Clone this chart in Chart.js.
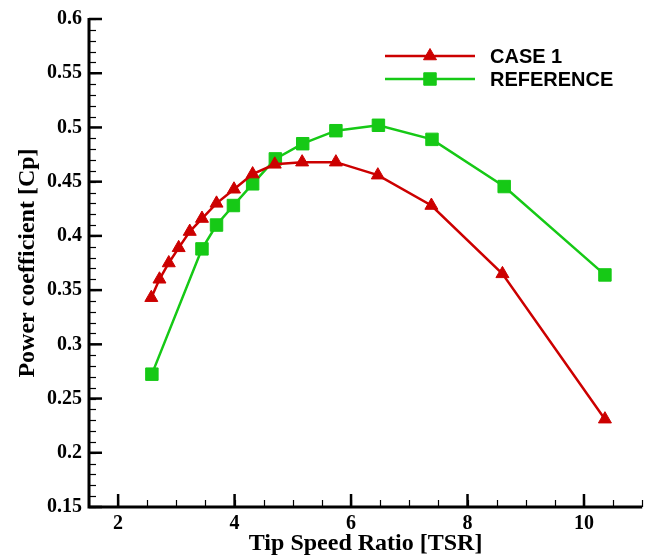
<!DOCTYPE html>
<html lang="en">
<head>
<meta charset="UTF-8">
<title>Power coefficient vs TSR</title>
<style>
  body { margin: 0; background: #fff; }
  canvas { display: block; }
</style>
</head>
<body>
<canvas id="myChart" width="652" height="556"></canvas>

<script src="https://cdn.jsdelivr.net/npm/chart.js"></script>
<script>
// data
const tsrCase = [2.57, 2.71, 2.87, 3.04, 3.23, 3.44, 3.69, 3.99, 4.31, 4.69, 5.16, 5.74, 6.46, 7.38, 8.60, 10.36];
const cpCase  = [0.343, 0.360, 0.375, 0.389, 0.404, 0.416, 0.430, 0.443, 0.457, 0.466, 0.468, 0.468, 0.456, 0.428, 0.365, 0.231];
const tsrRef  = [2.58, 3.44, 3.69, 3.98, 4.31, 4.70, 5.17, 5.74, 6.47, 7.39, 8.63, 10.36];
const cpRef   = [0.2725, 0.388, 0.410, 0.428, 0.448, 0.471, 0.485, 0.497, 0.502, 0.489, 0.4455, 0.364];

const seriesNames = ['CASE 1', 'REFERENCE'];
const xMajor = [2, 4, 6, 8, 10];

const red = '#cc0000';
const green = '#16c916';
const serif = '"Liberation Serif", "Times New Roman", serif';

function toPoints(xs, ys) {
  return xs.map((x, i) => ({x: x, y: ys[i]}));
}

// axes with inward ticks, minor ticks, no top/right frame
const axesPlugin = {
  id: 'axesPlugin',
  afterDraw(chart) {
    const ctx = chart.ctx;
    const xs = chart.scales.x, ys = chart.scales.y;
    const a = chart.chartArea;
    ctx.save();
    ctx.strokeStyle = '#000';
    ctx.lineCap = 'butt';

    // minor ticks
    ctx.lineWidth = 1.2;
    for (let v = 1.5; v <= 11.001; v += 0.5) {
      const px = Math.round(xs.getPixelForValue(v)) + 0.5;
      ctx.beginPath(); ctx.moveTo(px, a.bottom); ctx.lineTo(px, a.bottom - 7); ctx.stroke();
    }
    for (let k = 15; k <= 60; k++) {
      const py = Math.round(ys.getPixelForValue(k / 100)) + 0.5;
      ctx.beginPath(); ctx.moveTo(a.left, py); ctx.lineTo(a.left + 7, py); ctx.stroke();
    }
    // major ticks
    ctx.lineWidth = 2.5;
    xMajor.forEach(v => {
      const px = xs.getPixelForValue(v);
      ctx.beginPath(); ctx.moveTo(px, a.bottom); ctx.lineTo(px, a.bottom - 13); ctx.stroke();
    });
    for (let k = 15; k <= 60; k += 5) {
      const py = ys.getPixelForValue(k / 100);
      ctx.beginPath(); ctx.moveTo(a.left, py); ctx.lineTo(a.left + 13, py); ctx.stroke();
    }
    // axis lines
    ctx.lineWidth = 3;
    ctx.beginPath();
    ctx.moveTo(a.left, a.top - 1);
    ctx.lineTo(a.left, a.bottom);
    ctx.lineTo(a.right, a.bottom);
    ctx.stroke();

    // legend (line + marker + label)
    const ds = chart.data.datasets;
    const rows = [56, 79];
    ds.forEach((d, i) => {
      const y = rows[i];
      ctx.strokeStyle = d.borderColor;
      ctx.lineWidth = d.borderWidth;
      ctx.beginPath(); ctx.moveTo(385, y); ctx.lineTo(475, y); ctx.stroke();
      ctx.fillStyle = d.pointBackgroundColor;
      ctx.strokeStyle = d.pointBorderColor;
      ctx.lineWidth = 1;
      Chart.helpers.drawPoint(ctx, {pointStyle: d.pointStyle, radius: d.pointRadius, borderWidth: 1}, 430, y);
      ctx.fillStyle = '#000';
      ctx.font = 'bold 20px "Liberation Sans", Arial, sans-serif';
      ctx.textBaseline = 'middle';
      ctx.textAlign = 'left';
      ctx.fillText(seriesNames[i], 490, y + 1);
    });
    ctx.restore();
  }
};

const ctx = document.getElementById('myChart');

const chart = new Chart(ctx, {
  type: 'line',
  data: {
    datasets: [{
      label: seriesNames[0],
      data: toPoints(tsrCase, cpCase),
      borderColor: red,
      backgroundColor: red,
      pointBackgroundColor: red,
      pointBorderColor: red,
      borderWidth: 2.5,
      pointStyle: 'triangle',
      pointRadius: 7.5,
      pointBorderWidth: 1,
      tension: 0,
      fill: false
    }, {
      label: seriesNames[1],
      data: toPoints(tsrRef, cpRef),
      borderColor: green,
      backgroundColor: green,
      pointBackgroundColor: green,
      pointBorderColor: green,
      borderWidth: 2.5,
      pointStyle: 'rect',
      pointRadius: 8.8,
      pointBorderWidth: 1,
      tension: 0,
      fill: false
    }]
  },
  options: {
    responsive: false,
    animation: false,
    devicePixelRatio: 1,
    layout: { padding: { top: 16, right: 9, left: 0, bottom: 0 } },
    plugins: {
      legend: { display: false },
      tooltip: { enabled: false }
    },
    scales: {
      x: {
        type: 'linear',
        min: 1.5,
        max: 11,
        afterFit(scale) { scale.height = 49; },
        grid: { display: false, drawTicks: false },
        border: { display: false },
        ticks: {
          stepSize: 2,
          includeBounds: false,
          padding: 5,
          color: '#000',
          font: { family: serif, size: 20, weight: 'bold' }
        },
        title: {
          display: true,
          text: 'Tip Speed Ratio [TSR]',
          color: '#000',
          padding: { top: 0, bottom: 0 },
          font: { family: serif, size: 24, weight: 'bold', lineHeight: 1 }
        }
      },
      y: {
        min: 0.15,
        max: 0.6,
        afterFit(scale) { scale.width = 89; },
        grid: { display: false, drawTicks: false },
        border: { display: false },
        ticks: {
          stepSize: 0.05,
          padding: 7,
          color: '#000',
          font: { family: serif, size: 20, weight: 'bold' },
          callback: v => String(Math.round(v * 100) / 100)
        },
        title: {
          display: true,
          text: 'Power coefficient [Cp]',
          color: '#000',
          padding: { top: 16, bottom: 0 },
          font: { family: serif, size: 24, weight: 'bold', lineHeight: 1 }
        }
      }
    }
  },
  plugins: [axesPlugin]
});
</script>
</body>
</html>
